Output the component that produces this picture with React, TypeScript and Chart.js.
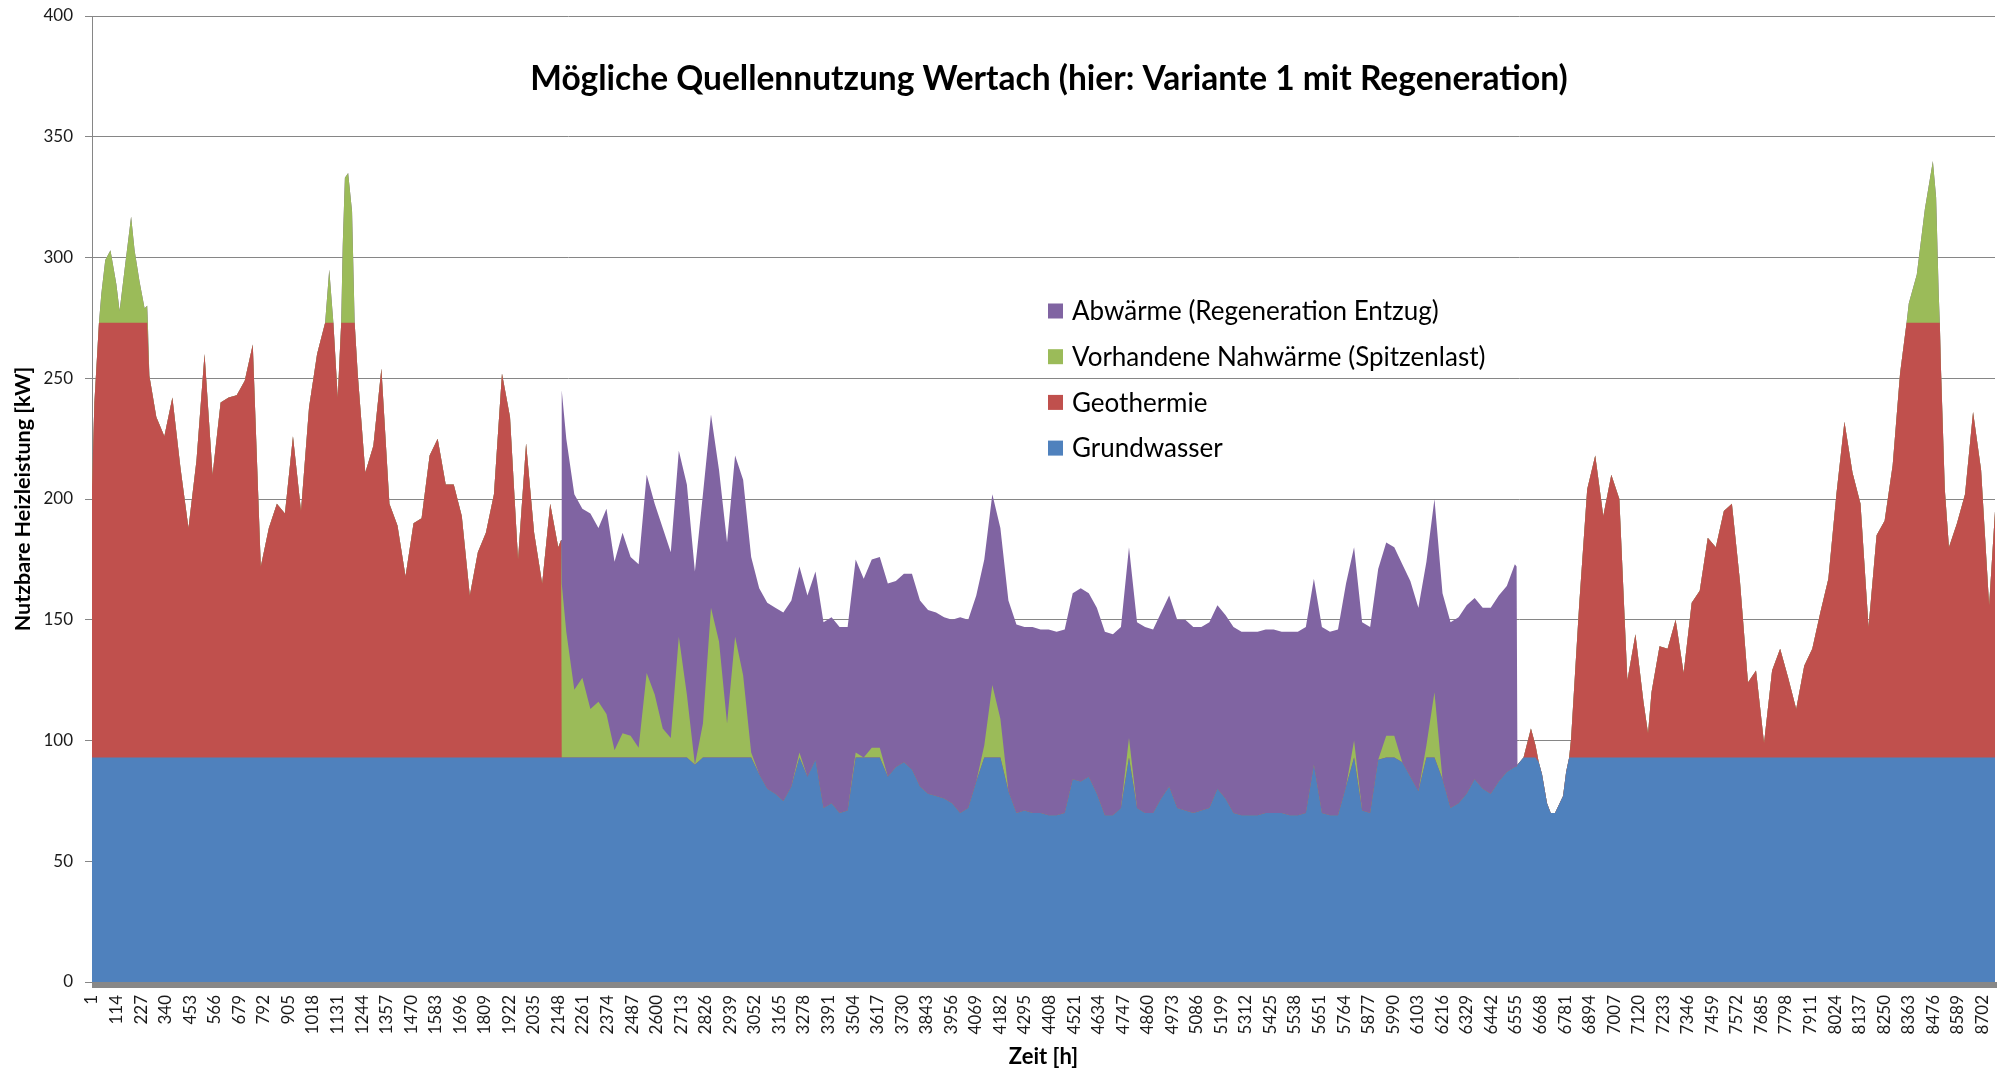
import React, { useEffect, useRef } from 'react';
import { Chart, registerables } from 'chart.js';

Chart.register(...registerables);

const FONT = "Lato, 'Open Sans', sans-serif";

const TITLE = 'Mögliche Quellennutzung Wertach (hier: Variante 1 mit Regeneration)';
const X_TITLE = 'Zeit [h]';
const Y_TITLE = 'Nutzbare Heizleistung [kW]';

const X_TICKS = [
  1, 114, 227, 340, 453, 566, 679, 792, 905, 1018, 1131, 1244, 1357, 1470, 1583, 1696, 1809, 1922, 2035, 2148,
  2261, 2374, 2487, 2600, 2713, 2826, 2939, 3052, 3165, 3278, 3391, 3504, 3617, 3730, 3843, 3956, 4069, 4182,
  4295, 4408, 4521, 4634, 4747, 4860, 4973, 5086, 5199, 5312, 5425, 5538, 5651, 5764, 5877, 5990, 6103, 6216,
  6329, 6442, 6555, 6668, 6781, 6894, 7007, 7120, 7233, 7346, 7459, 7572, 7685, 7798, 7911, 8024, 8137, 8250,
  8363, 8476, 8589, 8702,
];

// sample hours
const HOURS = [
  // winter
  1, 12, 33, 44, 62, 86, 113, 128, 151, 181, 197, 220, 243, 255, 258, 265,
  297, 334, 371, 408, 445, 482, 519, 556, 593, 630, 667, 704, 741, 778, 815, 852, 889, 926, 963, 1000, 1037,
  1074, 1093, 1112, 1132, 1148, 1155, 1165, 1180, 1198, 1210, 1224,
  1259, 1296, 1333, 1370, 1407, 1444, 1481, 1518, 1555, 1592, 1629, 1666, 1703, 1740, 1777, 1814, 1851, 1888,
  1925, 1962, 1999, 2036, 2073, 2110, 2147, 2160,
  // transition
  2163, 2184, 2221, 2258, 2295, 2332, 2369, 2406, 2443, 2480, 2517, 2554, 2591, 2628, 2665, 2702, 2739, 2776,
  2813, 2850, 2887, 2924, 2961, 2998, 3035,
  // summer
  3072, 3109, 3146, 3183, 3220, 3257, 3294, 3331, 3368, 3405, 3442, 3479, 3516, 3553, 3590, 3627, 3664, 3701,
  3738, 3775, 3812, 3849, 3886, 3923, 3960, 3997, 4034, 4071, 4108, 4145, 4182, 4219, 4256, 4293, 4330, 4367,
  4404, 4441, 4478, 4515, 4552, 4589, 4626, 4663, 4700, 4737, 4774, 4811, 4848, 4885, 4922, 4959, 4996, 5033,
  5070, 5107, 5144, 5181, 5218, 5255, 5292, 5329, 5366, 5403, 5440, 5477, 5514, 5551, 5588, 5625, 5662, 5699,
  5736, 5773, 5810, 5847, 5884, 5921, 5958, 5995, 6032, 6069, 6106, 6143, 6180, 6217, 6254, 6291, 6328, 6365,
  6402, 6439, 6476, 6513, 6550, 6558,
  // late year
  6562, 6590, 6624, 6645, 6660, 6675, 6698, 6715, 6735, 6772, 6786, 6800, 6809,
  6846, 6883, 6920, 6957, 6994, 7031, 7068, 7105, 7142, 7163, 7179, 7216, 7253, 7290, 7327, 7364, 7401, 7438,
  7475, 7512, 7549, 7586, 7623, 7660, 7697, 7734, 7771, 7808, 7845, 7882, 7919, 7956, 7993, 8030, 8067, 8104,
  8141, 8178, 8215, 8252, 8289,
  8323, 8353, 8363, 8400, 8437, 8474, 8489, 8501, 8506, 8511, 8529, 8548, 8585, 8622, 8659, 8696, 8733, 8760,
];

const GRUNDWASSER = [
  // winter (74)
  93, 93, 93, 93, 93, 93, 93, 93, 93, 93, 93, 93, 93, 93, 93, 93,
  93, 93, 93, 93, 93, 93, 93, 93, 93, 93, 93, 93, 93, 93, 93, 93, 93, 93, 93, 93, 93,
  93, 93, 93, 93, 93, 93, 93, 93, 93, 93, 93,
  93, 93, 93, 93, 93, 93, 93, 93, 93, 93, 93, 93, 93, 93, 93, 93, 93, 93,
  93, 93, 93, 93, 93, 93, 93, 93,
  // transition (25)
  93, 93, 93, 93, 93, 93, 93, 93, 93, 93, 93, 93, 93, 93, 93, 93, 93, 90,
  93, 93, 93, 93, 93, 93, 93,
  // summer (96)
  86, 80, 78, 75, 81, 93, 85, 92, 72, 74, 70, 71, 93, 93, 93, 93, 85, 89,
  91, 88, 81, 78, 77, 76, 74, 70, 72, 83, 93, 93, 93, 79, 70, 71, 70, 70,
  69, 69, 70, 84, 83, 85, 78, 69, 69, 72, 93, 72, 70, 70, 76, 81, 72, 71,
  70, 71, 72, 80, 76, 70, 69, 69, 69, 70, 70, 70, 69, 69, 70, 90, 70, 69,
  69, 81, 93, 71, 70, 92, 93, 93, 91, 85, 79, 93, 93, 84, 72, 74, 78, 84,
  80, 78, 83, 87, 89, 89,
  // late year (72)
  90, 93, 93, 93, 91, 86, 74, 70, 70, 77, 87, 93, 93,
  93, 93, 93, 93, 93, 93, 93, 93, 93, 93, 93, 93, 93, 93, 93, 93, 93, 93,
  93, 93, 93, 93, 93, 93, 93, 93, 93, 93, 93, 93, 93, 93, 93, 93, 93, 93,
  93, 93, 93, 93, 93,
  93, 93, 93, 93, 93, 93, 93, 93, 93, 93, 93, 93, 93, 93, 93, 93, 93, 93,
];

const GEOTHERMIE = [
  // winter (74)
  112, 147, 180, 180, 180, 180, 180, 180, 180, 180, 180, 180, 180, 180, 180, 158,
  141, 133, 149, 120, 95, 123, 167, 117, 147, 149, 150, 156, 171, 79, 95, 105, 101, 133, 102, 145, 167,
  180, 180, 180, 149, 180, 180, 180, 180, 180, 180, 159,
  118, 129, 161, 105, 96, 75, 97, 99, 125, 132, 113, 113, 100, 67, 85, 93, 109, 159,
  141, 82, 130, 93, 72, 105, 87, 90,
  // transition (25)
  0, 0, 0, 0, 0, 0, 0, 0, 0, 0, 0, 0, 0, 0, 0, 0, 0, 0,
  0, 0, 0, 0, 0, 0, 0,
  // summer (96)
  0, 0, 0, 0, 0, 0, 0, 0, 0, 0, 0, 0, 0, 0, 0, 0, 0, 0,
  0, 0, 0, 0, 0, 0, 0, 0, 0, 0, 0, 0, 0, 0, 0, 0, 0, 0,
  0, 0, 0, 0, 0, 0, 0, 0, 0, 0, 0, 0, 0, 0, 0, 0, 0, 0,
  0, 0, 0, 0, 0, 0, 0, 0, 0, 0, 0, 0, 0, 0, 0, 0, 0, 0,
  0, 0, 0, 0, 0, 0, 0, 0, 0, 0, 0, 0, 0, 0, 0, 0, 0, 0,
  0, 0, 0, 0, 0, 0,
  // late year (72)
  0, 0, 12, 5, 0, 0, 0, 0, 0, 0, 0, 0, 8,
  63, 111, 125, 100, 117, 107, 32, 51, 23, 10, 27, 46, 45, 57, 35, 64, 69, 91,
  87, 102, 105, 73, 31, 36, 6, 36, 45, 33, 20, 38, 45, 60, 74, 109, 139, 118,
  105, 54, 92, 98, 121,
  159, 180, 180, 180, 180, 180, 180, 180, 180, 162, 111, 87, 97, 109, 143, 119, 63, 102,
];

const NAHWAERME = [
  // winter (74)
  0, 0, 0, 12, 26, 30, 16, 5, 22, 44, 30, 17, 6, 7, 0, 0,
  0, 0, 0, 0, 0, 0, 0, 0, 0, 0, 0, 0, 0, 0, 0, 0, 0, 0, 0, 0, 0,
  0, 22, 0, 0, 0, 32, 60, 62, 46, 0, 0,
  0, 0, 0, 0, 0, 0, 0, 0, 0, 0, 0, 0, 0, 0, 0, 0, 0, 0,
  0, 0, 0, 0, 0, 0, 0, 0,
  // transition (25)
  72, 52, 28, 33, 20, 23, 18, 3, 10, 9, 4, 35, 26, 12, 8, 50, 26, 0,
  14, 62, 48, 14, 50, 34, 2,
  // summer (96)
  0, 0, 0, 0, 0, 2, 0, 0, 0, 0, 0, 0, 2, 0, 4, 4, 0, 0,
  0, 0, 0, 0, 0, 0, 0, 0, 0, 0, 5, 30, 16, 0, 0, 0, 0, 0,
  0, 0, 0, 0, 0, 0, 0, 0, 0, 0, 8, 0, 0, 0, 0, 0, 0, 0,
  0, 0, 0, 0, 0, 0, 0, 0, 0, 0, 0, 0, 0, 0, 0, 0, 0, 0,
  0, 0, 7, 0, 0, 0, 9, 9, 0, 0, 0, 5, 27, 0, 0, 0, 0, 0,
  0, 0, 0, 0, 0, 0,
  // late year (72)
  0, 0, 0, 0, 0, 0, 0, 0, 0, 0, 0, 0, 0,
  0, 0, 0, 0, 0, 0, 0, 0, 0, 0, 0, 0, 0, 0, 0, 0, 0, 0,
  0, 0, 0, 0, 0, 0, 0, 0, 0, 0, 0, 0, 0, 0, 0, 0, 0, 0,
  0, 0, 0, 0, 0,
  0, 0, 8, 20, 47, 67, 52, 12, 0, 0, 0, 0, 0, 0, 0, 0, 0, 0,
];

const ABWAERME = [
  // winter (74)
  0, 0, 0, 0, 0, 0, 0, 0, 0, 0, 0, 0, 0, 0, 0, 0,
  0, 0, 0, 0, 0, 0, 0, 0, 0, 0, 0, 0, 0, 0, 0, 0, 0, 0, 0, 0, 0,
  0, 0, 0, 0, 0, 0, 0, 0, 0, 0, 0,
  0, 0, 0, 0, 0, 0, 0, 0, 0, 0, 0, 0, 0, 0, 0, 0, 0, 0,
  0, 0, 0, 0, 0, 0, 0, 0,
  // transition (25)
  80, 80, 81, 70, 81, 72, 85, 78, 83, 74, 76, 82, 79, 83, 77, 77, 87, 80,
  95, 80, 71, 75, 75, 81, 81,
  // summer (96)
  77, 77, 77, 78, 77, 77, 75, 78, 77, 77, 77, 76, 80, 74, 78, 79, 80, 77,
  78, 81, 77, 76, 76, 75, 76, 81, 78, 77, 77, 79, 79, 79, 78, 76, 77, 76,
  77, 76, 76, 77, 80, 76, 77, 76, 75, 75, 79, 77, 77, 76, 77, 79, 78, 79,
  77, 76, 77, 76, 76, 77, 76, 76, 76, 76, 76, 75, 76, 76, 77, 77, 77, 76,
  77, 84, 80, 78, 77, 79, 80, 78, 82, 81, 76, 76, 80, 77, 77, 77, 78, 75,
  75, 77, 77, 77, 84, 83,
  // late year (72)
  0, 0, 0, 0, 0, 0, 0, 0, 0, 0, 0, 0, 0,
  0, 0, 0, 0, 0, 0, 0, 0, 0, 0, 0, 0, 0, 0, 0, 0, 0, 0,
  0, 0, 0, 0, 0, 0, 0, 0, 0, 0, 0, 0, 0, 0, 0, 0, 0, 0,
  0, 0, 0, 0, 0,
  0, 0, 0, 0, 0, 0, 0, 0, 0, 0, 0, 0, 0, 0, 0, 0, 0, 0,
];

const SERIES = [
  { label: 'Grundwasser', values: GRUNDWASSER, color: '#4F81BD' },
  { label: 'Geothermie', values: GEOTHERMIE, color: '#C0504D' },
  { label: 'Vorhandene Nahwärme (Spitzenlast)', values: NAHWAERME, color: '#9BBB59' },
  { label: 'Abwärme (Regeneration Entzug)', values: ABWAERME, color: '#8064A2' },
];

const overlayPlugin = {
  id: 'overlay',
  afterDraw(chart: any) {
    const { ctx, chartArea } = chart;
    const { left, top, bottom } = chartArea;
    ctx.save();
    // thick x-axis band
    ctx.fillStyle = '#878787';
    ctx.fillRect(left, bottom, chart.width - left, 6);
    // title inside the plot
    ctx.fillStyle = '#000000';
    ctx.font = `bold 33.5px ${FONT}`;
    ctx.textAlign = 'center';
    ctx.textBaseline = 'middle';
    ctx.fillText(TITLE, left + 957, top + 63);
    // legend (reverse order of stacking)
    const items = [...SERIES].reverse();
    ctx.font = `26px ${FONT}`;
    ctx.textAlign = 'left';
    items.forEach((it, i) => {
      const cy = top + 295 + i * 45.7;
      ctx.fillStyle = it.color;
      ctx.fillRect(left + 956, cy - 7.5, 15, 15);
      ctx.fillStyle = '#000000';
      ctx.fillText(it.label, left + 980, cy + 1);
    });
    ctx.restore();
  },
};

export default function App() {
  const ref = useRef<HTMLCanvasElement>(null);

  useEffect(() => {
    document.body.style.margin = '0';
    const canvas = ref.current;
    if (!canvas) return;
    const chart = new Chart(canvas, {
      type: 'line',
      data: {
        datasets: SERIES.map((s) => ({
          label: s.label,
          data: HOURS.map((h, i) => ({ x: h, y: s.values[i] })),
          backgroundColor: s.color,
          borderColor: 'rgba(0,0,0,0)',
          borderWidth: 0,
          pointRadius: 0,
          pointHoverRadius: 0,
          tension: 0,
          fill: 'origin',
        })),
      },
      options: {
        animation: false,
        responsive: false,
        devicePixelRatio: 1,
        events: [],
        layout: { padding: { top: 16, right: 2, left: 0, bottom: 0 } },
        plugins: {
          legend: { display: false },
          tooltip: { enabled: false },
          title: { display: false },
        },
        scales: {
          x: {
            type: 'linear',
            min: 1,
            max: 8760,
            afterBuildTicks: (scale: any) => {
              scale.ticks = X_TICKS.map((v) => ({ value: v }));
            },
            afterFit: (scale: any) => {
              scale.height = 89;
              scale.paddingLeft = 0;
              scale.paddingRight = 0;
              scale.paddingTop = 0;
              scale.paddingBottom = 0;
            },
            grid: { display: false, drawTicks: false },
            border: { display: false },
            ticks: {
              autoSkip: false,
              minRotation: 90,
              maxRotation: 90,
              padding: 13,
              color: '#1a1a1a',
              font: { family: FONT, size: 17 },
              callback: (v: any) => String(v),
            },
            title: {
              display: true,
              text: X_TITLE,
              color: '#000000',
              font: { family: FONT, size: 22, weight: 'bold' },
              padding: { top: 0, bottom: 1 },
            },
          },
          y: {
            stacked: true,
            min: 0,
            max: 400,
            afterFit: (scale: any) => {
              scale.width = 92;
              scale.paddingTop = 0;
              scale.paddingBottom = 0;
              scale.paddingLeft = 0;
              scale.paddingRight = 0;
            },
            ticks: {
              stepSize: 50,
              padding: 12,
              color: '#1a1a1a',
              font: { family: FONT, size: 17 },
            },
            grid: { color: '#868686', lineWidth: 1, tickLength: 7, drawTicks: true },
            border: { display: true, color: '#868686', width: 1 },
            title: {
              display: true,
              text: Y_TITLE,
              color: '#000000',
              font: { family: FONT, size: 21.5, weight: 'bold' },
              padding: { top: 10, bottom: 0 },
            },
          },
        },
      },
      plugins: [overlayPlugin],
    } as any);
    return () => chart.destroy();
  }, []);

  return (
    <div style={{ width: 1997, height: 1071, position: 'relative', background: '#ffffff', overflow: 'hidden' }}>
      <canvas ref={ref} width={1997} height={1071} style={{ display: 'block' }} />
    </div>
  );
}
